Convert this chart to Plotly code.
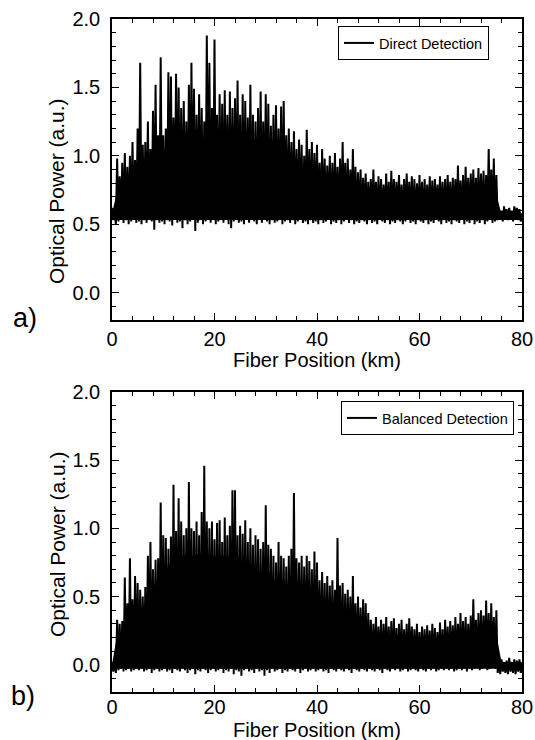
import plotly.graph_objects as go

# ---------------- data ----------------
# upper peaks every 0.5 km (0 ... 80 km), troughs in between (0.25 ... 79.75 km)
peaks_direct = [
    0.62, 0.60, 0.98, 0.85, 0.95, 1.02, 0.92, 1.00, 1.10, 0.97,
    1.20, 1.68, 1.08, 1.10, 1.25, 1.05, 1.33, 1.52, 1.15, 1.72,
    1.15, 1.20, 1.61, 1.58, 1.28, 1.60, 1.50, 1.35, 1.40, 1.25,
    1.52, 1.68, 1.49, 1.30, 1.45, 1.35, 1.25, 1.88, 1.68, 1.35,
    1.85, 1.30, 1.45, 1.38, 1.48, 1.30, 1.47, 1.35, 1.42, 1.55,
    1.30, 1.45, 1.40, 1.28, 1.52, 1.30, 1.25, 1.35, 1.47, 1.25,
    1.45, 1.38, 1.22, 1.30, 1.37, 1.20, 1.36, 1.40, 1.15, 1.20,
    1.10, 1.18, 1.05, 1.12, 1.08, 1.00, 1.19, 1.05, 1.10, 1.02,
    1.08, 0.95, 1.05, 0.98, 0.93, 1.00, 0.95, 1.02, 0.92, 0.98,
    1.10, 0.95, 0.98, 0.90, 1.05, 0.92, 0.88, 0.90, 0.84, 0.87,
    0.81, 0.83, 0.90, 0.81, 0.85, 0.83, 0.79, 0.87, 0.81, 0.89,
    0.83, 0.81, 0.86, 0.79, 0.83, 0.87, 0.81, 0.85, 0.83, 0.80,
    0.86, 0.81, 0.83, 0.79, 0.85, 0.82, 0.83, 0.79, 0.85, 0.81,
    0.83, 0.86, 0.81, 0.84, 0.83, 0.93, 0.82, 0.86, 0.92, 0.84,
    0.87, 0.90, 0.84, 0.91, 0.87, 0.89, 0.86, 1.05, 0.90, 0.98,
    0.86, 0.62, 0.60, 0.63, 0.61, 0.62, 0.60, 0.63, 0.62, 0.61,
    0.58,
]
troughs_direct = [
    0.53, 0.50, 0.52, 0.54, 0.51, 0.53, 0.50, 0.52, 0.55, 0.51,
    0.52, 0.50, 0.53, 0.51, 0.54, 0.52, 0.46, 0.53, 0.51, 0.52,
    0.50, 0.53, 0.52, 0.49, 0.54, 0.51, 0.52, 0.47, 0.53, 0.50,
    0.52, 0.54, 0.45, 0.51, 0.53, 0.50, 0.52, 0.54, 0.51, 0.53,
    0.50, 0.52, 0.53, 0.51, 0.54, 0.50, 0.47, 0.52, 0.53, 0.51,
    0.52, 0.50, 0.54, 0.51, 0.53, 0.52, 0.50, 0.53, 0.51, 0.54,
    0.52, 0.50, 0.53, 0.51, 0.52, 0.54, 0.50, 0.52, 0.53, 0.51,
    0.53, 0.50, 0.52, 0.54, 0.51, 0.52, 0.50, 0.53, 0.51, 0.52,
    0.50, 0.53, 0.51, 0.52, 0.54, 0.50, 0.52, 0.51, 0.53, 0.50,
    0.52, 0.54, 0.51, 0.53, 0.50, 0.52, 0.51, 0.53, 0.52, 0.50,
    0.53, 0.51, 0.52, 0.50, 0.54, 0.52, 0.51, 0.53, 0.50, 0.52,
    0.51, 0.53, 0.52, 0.50, 0.52, 0.54, 0.51, 0.52, 0.50, 0.53,
    0.52, 0.51, 0.53, 0.50, 0.52, 0.51, 0.54, 0.52, 0.50, 0.53,
    0.51, 0.52, 0.50, 0.53, 0.52, 0.51, 0.54, 0.50, 0.52, 0.51,
    0.53, 0.50, 0.52, 0.51, 0.53, 0.50, 0.52, 0.54, 0.51, 0.52,
    0.53, 0.54, 0.52, 0.55, 0.53, 0.54, 0.52, 0.55, 0.53, 0.52,
]
peaks_balanced = [
    0.02, 0.03, 0.33, 0.30, 0.32, 0.64, 0.45, 0.78, 0.48, 0.65,
    0.60, 0.55, 0.50, 0.57, 0.80, 0.90, 0.70, 0.77, 0.78, 1.19,
    0.95, 0.93, 0.85, 0.94, 1.32, 0.98, 1.22, 1.05, 0.95, 1.00,
    1.34, 1.00, 0.98, 1.05, 0.95, 1.12, 1.46, 1.05, 1.00, 1.05,
    0.92, 1.04, 1.06, 0.90, 1.08, 0.95, 1.02, 1.28, 1.28, 0.95,
    1.02, 0.96, 1.06, 0.90, 1.00, 0.88, 0.95, 0.92, 0.85, 0.90,
    1.17, 0.88, 0.85, 0.80, 0.75, 0.90, 0.80, 0.78, 0.72, 0.80,
    0.85, 1.26, 0.78, 0.75, 0.80, 0.72, 0.80, 0.76, 0.70, 0.83,
    0.75, 0.62, 0.68, 0.60, 0.65, 0.58, 0.62, 0.55, 0.93, 0.58,
    0.60, 0.52, 0.55, 0.50, 0.65, 0.45, 0.50, 0.42, 0.48, 0.45,
    0.38, 0.33, 0.30, 0.35, 0.28, 0.33, 0.30, 0.35, 0.28, 0.32,
    0.34, 0.27, 0.30, 0.33, 0.26, 0.30, 0.34, 0.28, 0.26, 0.30,
    0.24, 0.28, 0.26, 0.29, 0.25, 0.30, 0.27, 0.24, 0.31, 0.26,
    0.33, 0.28, 0.32, 0.29, 0.35, 0.30, 0.38, 0.32, 0.35, 0.30,
    0.36, 0.48, 0.33, 0.38, 0.40, 0.36, 0.47, 0.38, 0.45, 0.35,
    0.40, 0.03, 0.04, 0.02, 0.03, 0.05, 0.02, 0.04, 0.03, 0.04,
    0.02,
]
troughs_balanced = [
    -0.05, -0.06, -0.04, -0.03, -0.05, -0.04, -0.03, -0.05, -0.04, -0.03,
    -0.04, -0.03, -0.05, -0.04, -0.03, -0.06, -0.04, -0.03, -0.05, -0.04,
    -0.03, -0.05, -0.04, -0.06, -0.03, -0.04, -0.05, -0.03, -0.04, -0.06,
    -0.04, -0.03, -0.07, -0.04, -0.05, -0.03, -0.04, -0.06, -0.04, -0.03,
    -0.05, -0.04, -0.03, -0.06, -0.04, -0.05, -0.03, -0.07, -0.04, -0.05,
    -0.08, -0.04, -0.03, -0.05, -0.04, -0.06, -0.03, -0.05, -0.04, -0.08,
    -0.04, -0.06, -0.03, -0.05, -0.04, -0.03, -0.06, -0.04, -0.05, -0.03,
    -0.04, -0.05, -0.03, -0.06, -0.04, -0.03, -0.05, -0.04, -0.03, -0.05,
    -0.04, -0.03, -0.05, -0.04, -0.06, -0.03, -0.04, -0.05, -0.03, -0.04,
    -0.05, -0.03, -0.04, -0.06, -0.03, -0.04, -0.05, -0.03, -0.04, -0.05,
    -0.03, -0.04, -0.05, -0.03, -0.04, -0.06, -0.03, -0.04, -0.05, -0.03,
    -0.04, -0.03, -0.05, -0.04, -0.03, -0.05, -0.04, -0.03, -0.04, -0.05,
    -0.03, -0.04, -0.05, -0.03, -0.04, -0.03, -0.05, -0.04, -0.03, -0.04,
    -0.03, -0.04, -0.03, -0.05, -0.04, -0.03, -0.04, -0.03, -0.05, -0.03,
    -0.04, -0.03, -0.02, -0.04, -0.03, -0.02, -0.04, -0.03, -0.02, -0.03,
    -0.06, -0.07, -0.05, -0.06, -0.07, -0.05, -0.06, -0.07, -0.05, -0.06,
]
# dense (unresolved) part of the trace: top of the solid black band, every 1 km
body_km = list(range(81))
body_top_direct = [
    0.58, 0.74, 0.78, 0.80, 0.82, 0.86, 0.88, 0.90, 0.94, 0.98,
    1.00, 1.03, 1.06, 1.08, 1.10, 1.12, 1.12, 1.13, 1.13, 1.13,
    1.13, 1.13, 1.12, 1.12, 1.12, 1.10, 1.10, 1.08, 1.08, 1.06,
    1.04, 1.02, 1.00, 0.98, 0.96, 0.94, 0.92, 0.90, 0.89, 0.88,
    0.87, 0.87, 0.86, 0.85, 0.84, 0.84, 0.82, 0.80, 0.78, 0.75,
    0.73, 0.72, 0.72, 0.72, 0.72, 0.72, 0.72, 0.72, 0.72, 0.72,
    0.72, 0.72, 0.72, 0.72, 0.72, 0.72, 0.72, 0.73, 0.73, 0.73,
    0.73, 0.73, 0.73, 0.74, 0.74, 0.72, 0.57, 0.57, 0.57, 0.57,
    0.57,
]
body_top_balanced = [
    0.00, 0.22, 0.25, 0.35, 0.38, 0.40, 0.42, 0.50, 0.57, 0.62,
    0.68, 0.72, 0.75, 0.78, 0.80, 0.80, 0.80, 0.82, 0.82, 0.80,
    0.80, 0.80, 0.80, 0.78, 0.78, 0.76, 0.75, 0.72, 0.70, 0.68,
    0.66, 0.64, 0.62, 0.60, 0.58, 0.57, 0.55, 0.53, 0.50, 0.48,
    0.46, 0.44, 0.42, 0.40, 0.39, 0.37, 0.35, 0.32, 0.29, 0.25,
    0.21, 0.17, 0.17, 0.17, 0.17, 0.17, 0.17, 0.17, 0.17, 0.17,
    0.17, 0.17, 0.17, 0.17, 0.17, 0.17, 0.17, 0.17, 0.17, 0.19,
    0.19, 0.20, 0.20, 0.21, 0.21, 0.22, 0.02, 0.02, 0.02, 0.02,
    0.02,
]
body_floor_direct = 0.53
body_floor_balanced = -0.03

peak_km = [0.5 * i for i in range(161)]
trough_km = [0.5 * i + 0.25 for i in range(160)]

x_ticks = [0, 20, 40, 60, 80]
y_ticks = [0.0, 0.5, 1.0, 1.5, 2.0]
y_tick_labels = ["0.0", "0.5", "1.0", "1.5", "2.0"]


def interleave(peaks, troughs):
    xs, ys = [], []
    for i in range(len(troughs)):
        xs += [peak_km[i], trough_km[i]]
        ys += [peaks[i], troughs[i]]
    xs.append(peak_km[-1])
    ys.append(peaks[-1])
    return xs, ys


FONT = "Arial, 'Liberation Sans', sans-serif"
W, H = 535, 740

xa, ya = interleave(peaks_direct, troughs_direct)
xb, yb = interleave(peaks_balanced, troughs_balanced)

fig = go.Figure()
# solid band (dense oscillation)
for top, floor, xax, yax in [(body_top_direct, body_floor_direct, "x", "y"),
                             (body_top_balanced, body_floor_balanced, "x2", "y2")]:
    fig.add_trace(go.Scatter(
        x=body_km + body_km[::-1], y=top + [floor] * len(body_km),
        mode="lines", fill="toself", fillcolor="black", line=dict(width=0, color="black"),
        hoverinfo="skip", showlegend=False, xaxis=xax, yaxis=yax))

fig.add_trace(go.Scatter(x=xa, y=ya, mode="lines", name="Direct Detection",
                         line=dict(color="black", width=2.0, simplify=False),
                         xaxis="x", yaxis="y", legend="legend"))
fig.add_trace(go.Scatter(x=xb, y=yb, mode="lines", name="Balanced Detection",
                         line=dict(color="black", width=2.0, simplify=False),
                         xaxis="x2", yaxis="y2", legend="legend2"))

px_l, px_r = 112, 522
dom_x = [px_l / W, px_r / W]
dom_ya = [1 - 320 / H, 1 - 19 / H]
dom_yb = [1 - 692 / H, 1 - 392 / H]

xaxis_common = dict(
    range=[0, 80], tickvals=x_ticks, ticks="inside", ticklen=7, tickwidth=1.2,
    tickcolor="black", showline=True, linecolor="black", linewidth=1.5,
    mirror="ticks", showgrid=False, zeroline=False, automargin=False,
    minor=dict(ticks="inside", dtick=4, ticklen=4, tickcolor="black", tickwidth=1, showgrid=False),
    tickfont=dict(family=FONT, size=20, color="black"),
    domain=dom_x,
)
yaxis_common = dict(
    range=[-0.2, 2.0], tickvals=y_ticks, ticktext=y_tick_labels, ticks="inside",
    ticklen=7, tickwidth=1.2, tickcolor="black", showline=True, linecolor="black",
    linewidth=1.5, mirror="ticks", showgrid=False, zeroline=False, automargin=False,
    minor=dict(ticks="inside", dtick=0.1, ticklen=4, tickcolor="black", tickwidth=1, showgrid=False),
    tickfont=dict(family=FONT, size=20, color="black"), ticklabelstandoff=6,
)

legend_common = dict(
    xanchor="right", yanchor="top", bgcolor="white", bordercolor="black", borderwidth=1,
    font=dict(family=FONT, size=14.5, color="black"), itemwidth=30,
    tracegroupgap=0, traceorder="normal",
)

fig.update_layout(
    width=W, height=H, margin=dict(l=0, r=0, t=0, b=0, autoexpand=False),
    paper_bgcolor="white", plot_bgcolor="white", showlegend=True,
    xaxis=dict(**xaxis_common, anchor="y", ticklabelstandoff=0),
    yaxis=dict(**yaxis_common, domain=dom_ya, anchor="x"),
    xaxis2=dict(**xaxis_common, anchor="y2", ticklabelstandoff=-4),
    yaxis2=dict(**yaxis_common, domain=dom_yb, anchor="x2"),
    legend=dict(**legend_common, x=489 / W, y=1 - 26 / H),
    legend2=dict(**legend_common, x=514 / W, y=1 - 401 / H),
)

annotations = [
    dict(text="Fiber Position (km)", x=(px_l + px_r) / 2 / W, y=1 - 360 / H),
    dict(text="Fiber Position (km)", x=(px_l + px_r) / 2 / W, y=1 - 730 / H),
]
for a in annotations:
    a.update(xref="paper", yref="paper", showarrow=False, xanchor="center", yanchor="middle",
             font=dict(family=FONT, size=20, color="black"))
for yc in [1 - 191 / H, 1 - 544 / H]:
    annotations.append(dict(text="Optical Power (a.u.)", x=57 / W, y=yc, xref="paper", yref="paper",
                            showarrow=False, textangle=-90, xanchor="center", yanchor="middle",
                            font=dict(family=FONT, size=21, color="black")))
annotations.append(dict(text="a)", x=25 / W, y=1 - 318 / H, xref="paper", yref="paper",
                        showarrow=False, xanchor="center", yanchor="middle",
                        font=dict(family=FONT, size=27, color="black")))
annotations.append(dict(text="b)", x=23 / W, y=1 - 696 / H, xref="paper", yref="paper",
                        showarrow=False, xanchor="center", yanchor="middle",
                        font=dict(family=FONT, size=27, color="black")))
fig.update_layout(annotations=annotations)

fig.write_html("out.html")
